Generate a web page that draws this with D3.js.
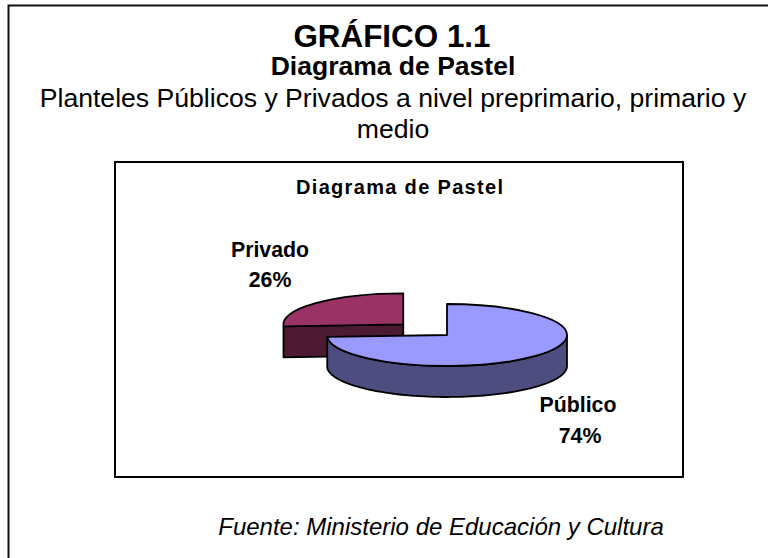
<!DOCTYPE html>
<html><head><meta charset="utf-8">
<script src="https://cdnjs.cloudflare.com/ajax/libs/d3/7.8.5/d3.min.js"></script>
<style>html,body{margin:0;padding:0;background:#fff}svg{display:block}text{font-family:"Liberation Sans",Arial,sans-serif;fill:#000}</style>
</head><body><svg id="c" width="768" height="558"></svg>
<script>
const categories = ["Público", "Privado"];
const values = [74, 26];
const topColors = ["#9999FF", "#993366"];
const sideColors = ["#4D4D80", "#4D1A33"];
const headings = ["GRÁFICO 1.1", "Diagrama de Pastel", "Planteles Públicos y Privados a nivel preprimario, primario y", "medio"];
const chartTitle = "Diagrama de Pastel";
const source = "Fuente: Ministerio de Educación y Cultura";

const svg = d3.select("#c");
svg.append("path").attr("d","M8.5,558V5.5H768").attr("fill","none").attr("stroke","#111").attr("stroke-width",2);
svg.append("rect").attr("x",115).attr("y",162).attr("width",568).attr("height",315).attr("fill","#fff").attr("stroke","#000").attr("stroke-width",2);

const hs = [[392,47,31.4,"bold"],[393,75,26.5,"bold"],[393,107,26.6,"normal"],[393,138,26.6,"normal"]];
headings.forEach((t,i)=>svg.append("text").attr("x",hs[i][0]).attr("y",hs[i][1]).attr("text-anchor","middle")
  .attr("font-size",hs[i][2]).attr("font-weight",hs[i][3]).text(t));
svg.append("text").attr("x",399.5).attr("y",194).attr("text-anchor","middle").attr("font-size",20).attr("font-weight","bold")
  .attr("textLength",207).text(chartTitle);
svg.append("text").attr("x",441).attr("y",535).attr("text-anchor","middle").attr("font-size",24).attr("font-style","italic").text(source);

const rx=120, ry=31, depth=31, cx=447, cy=335, explode=60;
const pie=d3.pie().sort(null).startAngle(0).endAngle(2*Math.PI)(values);
const pt=(a,r=1)=>[r*rx*Math.sin(a), -r*ry*Math.cos(a)];
const ellipseArc=d3.arc().innerRadius(0).outerRadius(rx);
const line=d3.line();

function slice(p,i){
  const mid=(p.startAngle+p.endAngle)/2;
  const off=i===1?explode:0;
  const g=svg.append("g").attr("transform",`translate(${cx+off*Math.sin(mid)},${cy-off*Math.cos(mid)*ry/rx})`);
  const stroke={stroke:"#000","stroke-width":1.8,"stroke-linejoin":"round"};
  const style=s=>{Object.entries(stroke).forEach(([k,v])=>s.attr(k,v));return s;};
  const visible=d3.range(0,121).map(k=>p.startAngle+(p.endAngle-p.startAngle)*k/120)
    .filter(a=>Math.cos(a)<=0.001);
  if(i===1){
    const a=p.startAngle;
    const f=[[0,0],pt(a),[pt(a)[0],pt(a)[1]+depth],[0,depth]];
    style(g.append("path").attr("d",line(f)+"Z").attr("fill",sideColors[i]));
  } else {
    const out=visible.map(a=>pt(a));
    const band=out.concat(out.slice().reverse().map(q=>[q[0],q[1]+depth]));
    style(g.append("path").attr("d",line(band)+"Z").attr("fill",sideColors[i]));
  }
  style(g.append("path").attr("transform",`scale(1,${ry/rx})`).attr("vector-effect","non-scaling-stroke")
    .attr("d",ellipseArc({startAngle:p.startAngle,endAngle:p.endAngle})).attr("fill",topColors[i]));
}
slice(pie[1],1);
slice(pie[0],0);

const labels=[[578,[412,443]],[270,[257,287]]];
categories.forEach((c,i)=>{
  [c,values[i]+"%"].forEach((t,j)=>svg.append("text").attr("x",labels[i][0]+(j&&i===0?2:0)).attr("y",labels[i][1][j])
    .attr("text-anchor","middle").attr("font-size",21.3).attr("font-weight","bold").text(t));
});
</script></body></html>
